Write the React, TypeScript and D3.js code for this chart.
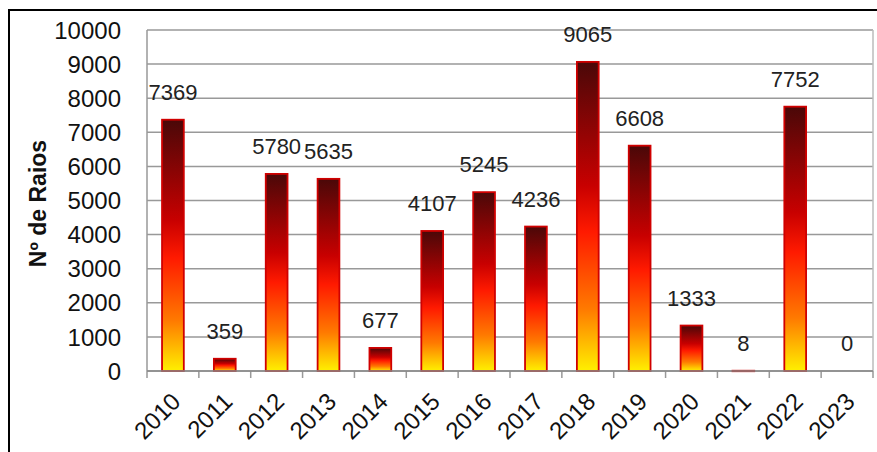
import React from "react";
import * as d3 from "d3";

const categories = ["2010","2011","2012","2013","2014","2015","2016","2017","2018","2019","2020","2021","2022","2023"];
const values = [7369, 359, 5780, 5635, 677, 4107, 5245, 4236, 9065, 6608, 1333, 8, 7752, 0];
const yTicks = [0, 1000, 2000, 3000, 4000, 5000, 6000, 7000, 8000, 9000, 10000];
const yTitle = "Nº de Raios";

export default function App() {
  const W = 877, H = 452;
  const left = 147, right = 873, top = 30, bottom = 371;
  const x = d3.scaleBand<string>().domain(categories).range([left, right]).paddingInner(0.58).paddingOuter(0.29);
  const xb = d3.scaleBand<string>().domain(categories).range([left, right]);
  const y = d3.scaleLinear().domain([0, 10000]).range([bottom, top]);
  const font = "'Liberation Sans', Arial, sans-serif";
  return (
    <svg width={W} height={H} style={{ position: "absolute", left: 0, top: 0, background: "#fff" }} fontFamily={font}>
      <defs>
        <linearGradient id="barg" x1="0" y1="0" x2="0" y2="1">
          <stop offset="0" stopColor="#4a0808" />
          <stop offset="0.4" stopColor="#c80000" />
          <stop offset="0.55" stopColor="#ff1a00" />
          <stop offset="0.8" stopColor="#ff7a00" />
          <stop offset="1" stopColor="#fff000" />
        </linearGradient>
      </defs>
      <rect x={9} y={10} width={880} height={460} fill="none" stroke="#000" strokeWidth={2} />
      {yTicks.map(t => (
        <g key={t}>
          <line x1={left} x2={right} y1={y(t)} y2={y(t)} stroke="#999" strokeWidth={1.5} />
          <text x={121} y={y(t)} dy="0.36em" textAnchor="end" fontSize={24} fill="#111">{t}</text>
        </g>
      ))}
      <line x1={left} x2={left} y1={top} y2={bottom} stroke="#999" strokeWidth={1.5} />
      <line x1={right} x2={right} y1={top} y2={bottom} stroke="#bbb" strokeWidth={1.5} />
      {categories.map((c) => (
        <line key={"t" + c} x1={xb(c)!} x2={xb(c)!} y1={bottom} y2={bottom + 7} stroke="#999" strokeWidth={1.5} />
      ))}
      <line x1={right} x2={right} y1={bottom} y2={bottom + 7} stroke="#999" strokeWidth={1.5} />
      {categories.map((c, i) => {
        const v = values[i];
        const bx = x(c)!;
        const bw = x.bandwidth();
        const h = bottom - y(v);
        return (
          <g key={c}>
            {v > 0 && (
              <rect x={bx} y={y(v)} width={bw} height={Math.max(h, 0.5)} fill="url(#barg)" stroke="#d00000" strokeWidth={1.8} />
            )}
            <text x={bx + bw / 2} y={y(v) - 20} textAnchor="middle" fontSize={22} fill="#222">{v}</text>
            <text transform={`translate(${bx + bw / 2 + 3},${bottom + 26}) rotate(-45)`} textAnchor="end" dy="0.36em" fontSize={24} fill="#111">{c}</text>
          </g>
        );
      })}
      <line x1={left} x2={right} y1={bottom} y2={bottom} stroke="#888" strokeWidth={1.5} />
      <text transform={`translate(46,${(top + bottom) / 2 + 3}) rotate(-90)`} textAnchor="middle" fontSize={23} fontWeight="bold" fill="#111">{yTitle}</text>
    </svg>
  );
}
